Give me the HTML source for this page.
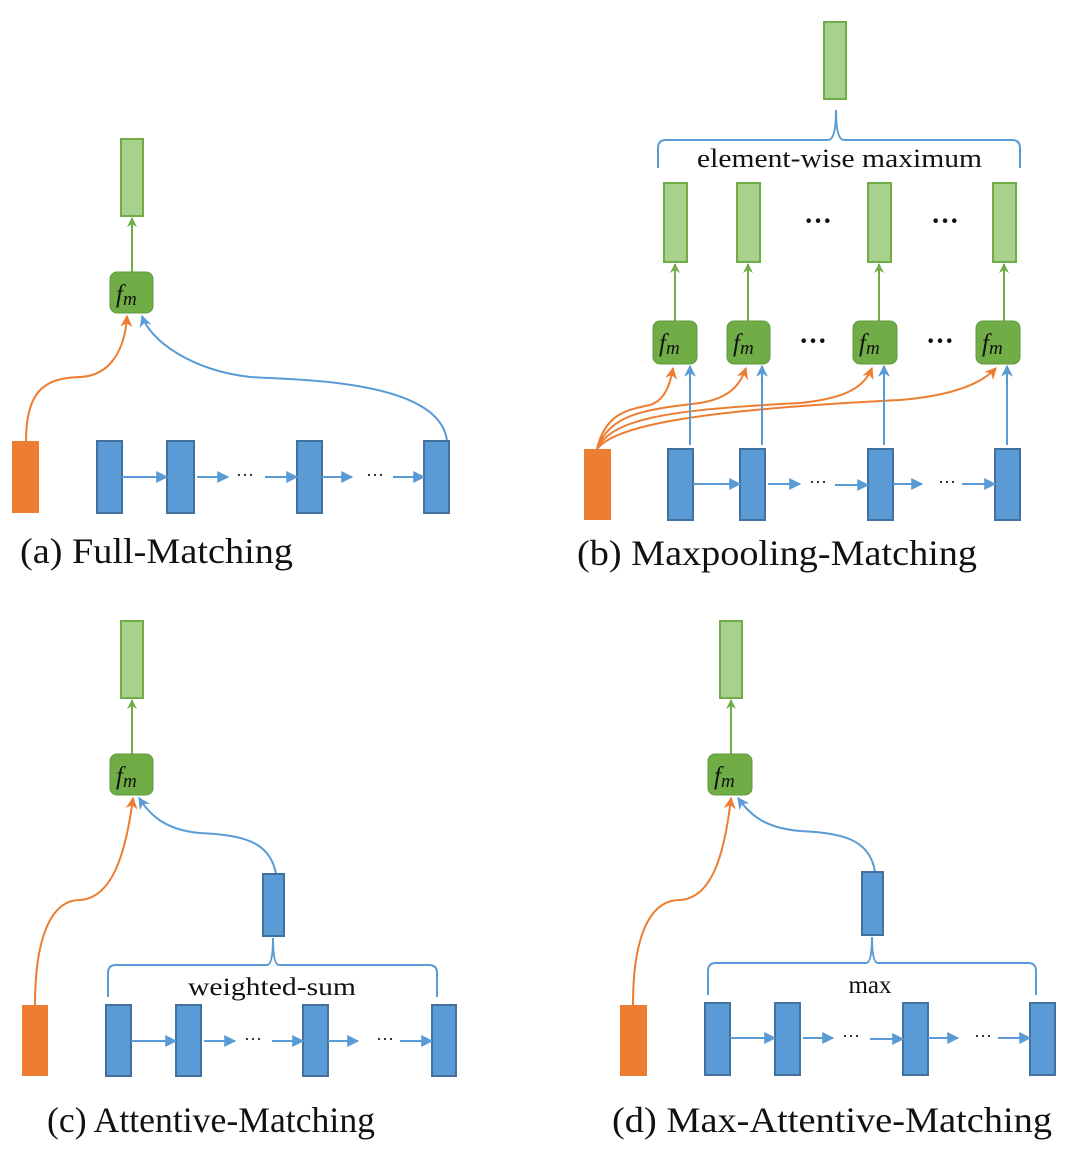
<!DOCTYPE html>
<html><head><meta charset="utf-8"><style>
html,body{margin:0;padding:0;background:#fff;}
svg{display:block;}
text{font-family:"Liberation Serif",serif;fill:#111;}
</style></head><body>
<svg width="1080" height="1152" viewBox="0 0 1080 1152" xmlns="http://www.w3.org/2000/svg">
<defs>
<marker id="ab" viewBox="0 0 10 10" refX="9" refY="5" markerWidth="12" markerHeight="12" markerUnits="userSpaceOnUse" orient="auto"><path d="M0,0L10,5L0,10z" fill="#5b9bd5"/></marker>
<marker id="ab2" viewBox="0 0 10 10" refX="9" refY="5" markerWidth="12" markerHeight="12" markerUnits="userSpaceOnUse" orient="auto"><path d="M0,0L10,5L0,10L3,5z" fill="#5b9bd5"/></marker>
<marker id="ao" viewBox="0 0 10 10" refX="9" refY="5" markerWidth="12" markerHeight="12" markerUnits="userSpaceOnUse" orient="auto"><path d="M0,0L10,5L0,10L3,5z" fill="#ed7d31"/></marker>
<marker id="ag" viewBox="0 0 10 10" refX="9" refY="5" markerWidth="10" markerHeight="10" markerUnits="userSpaceOnUse" orient="auto"><path d="M0,0L10,5L0,10L3,5z" fill="#70ad47"/></marker>
</defs>
<style>
.gr{fill:#a9d18e;stroke:#70ad47;stroke-width:2}
.fm{fill:#70ad47;stroke:#5f9a3c;stroke-width:1}
.bl{fill:#5b9bd5;stroke:#41719c;stroke-width:2}
.or{fill:#ed7d31}
.lb{stroke:#5b9bd5;stroke-width:2;fill:none}
.lo{stroke:#ed7d31;stroke-width:2;fill:none}
.lg{stroke:#70ad47;stroke-width:2;fill:none}
.f{font-family:"Liberation Serif",serif;font-style:italic;font-size:25px;}
.d{font-size:28px;font-weight:bold;}
</style>

<!-- Panel (a) -->
<rect class="gr" x="121" y="139" width="22" height="77"/>
<line class="lg" x1="132" y1="272" x2="132" y2="218" marker-end="url(#ag)"/>
<rect class="fm" x="110" y="272" width="43" height="41" rx="7"/>
<text class="f" x="116" y="302">f<tspan font-size="19" dy="3">m</tspan></text>
<rect class="or" x="12" y="441" width="27" height="72"/>
<path class="lo" d="M26,441 C26,390 45,378 80,377 C110,376 125,350 127,316" marker-end="url(#ao)"/>
<path class="lb" d="M447,441 C440,380 300,380 250,377 C190,370 150,340 142,316" marker-end="url(#ab2)"/>
<rect class="bl" x="97" y="441" width="25" height="72"/>
<rect class="bl" x="167" y="441" width="27" height="72"/>
<rect class="bl" x="297" y="441" width="25" height="72"/>
<rect class="bl" x="424" y="441" width="25" height="72"/>
<line class="lb" x1="122" y1="477" x2="167" y2="477" marker-end="url(#ab)"/>
<line class="lb" x1="197" y1="477" x2="228" y2="477" marker-end="url(#ab)"/>
<text x="245" y="481" font-size="18" text-anchor="middle">···</text>
<line class="lb" x1="265" y1="477" x2="297" y2="477" marker-end="url(#ab)"/>
<line class="lb" x1="322" y1="477" x2="352" y2="477" marker-end="url(#ab)"/>
<text x="375" y="481" font-size="18" text-anchor="middle">···</text>
<line class="lb" x1="393" y1="477" x2="424" y2="477" marker-end="url(#ab)"/>
<text x="20" y="563" font-size="36" textLength="273" lengthAdjust="spacingAndGlyphs">(a) Full-Matching</text>

<!-- Panel (b) -->
<rect class="gr" x="824" y="22" width="22" height="77"/>
<path class="lb" d="M658,168 L658,148 Q658,140 666,140 L828,140 Q836,140 836,110 Q836,140 844,140 L1012,140 Q1020,140 1020,148 L1020,168"/>
<text x="697" y="167" font-size="26" textLength="285" lengthAdjust="spacingAndGlyphs">element-wise maximum</text>
<rect class="gr" x="664" y="183" width="23" height="79"/>
<rect class="gr" x="737" y="183" width="23" height="79"/>
<rect class="gr" x="868" y="183" width="23" height="79"/>
<rect class="gr" x="993" y="183" width="23" height="79"/>
<text class="d" x="818" y="230" text-anchor="middle">···</text>
<text class="d" x="945" y="230" text-anchor="middle">···</text>
<line class="lg" x1="675" y1="321" x2="675" y2="264" marker-end="url(#ag)"/>
<line class="lg" x1="748" y1="321" x2="748" y2="264" marker-end="url(#ag)"/>
<line class="lg" x1="879" y1="321" x2="879" y2="264" marker-end="url(#ag)"/>
<line class="lg" x1="1004" y1="321" x2="1004" y2="264" marker-end="url(#ag)"/>
<rect class="fm" x="653" y="321" width="44" height="43" rx="7"/>
<rect class="fm" x="727" y="321" width="43" height="43" rx="7"/>
<rect class="fm" x="853" y="321" width="44" height="43" rx="7"/>
<rect class="fm" x="976" y="321" width="44" height="43" rx="7"/>
<text class="f" x="659" y="351">f<tspan font-size="19" dy="3">m</tspan></text>
<text class="f" x="733" y="351">f<tspan font-size="19" dy="3">m</tspan></text>
<text class="f" x="859" y="351">f<tspan font-size="19" dy="3">m</tspan></text>
<text class="f" x="982" y="351">f<tspan font-size="19" dy="3">m</tspan></text>
<text class="d" x="813" y="350" text-anchor="middle">···</text>
<text class="d" x="940" y="350" text-anchor="middle">···</text>
<rect class="or" x="584" y="449" width="27" height="71"/>
<path class="lo" d="M597,449 C605,415 625,410 650,405 C665,400 670,385 673,368" marker-end="url(#ao)"/>
<path class="lo" d="M597,449 C610,415 640,410 700,403 C730,398 740,385 746,368" marker-end="url(#ao)"/>
<path class="lo" d="M597,449 C612,420 660,410 800,403 C850,398 865,385 872,368" marker-end="url(#ao)"/>
<path class="lo" d="M597,449 C615,425 700,410 900,400 C960,395 985,380 996,368" marker-end="url(#ao)"/>
<line class="lb" x1="690" y1="445" x2="690" y2="366" marker-end="url(#ab2)"/>
<line class="lb" x1="762" y1="445" x2="762" y2="366" marker-end="url(#ab2)"/>
<line class="lb" x1="884" y1="445" x2="884" y2="366" marker-end="url(#ab2)"/>
<line class="lb" x1="1007" y1="445" x2="1007" y2="366" marker-end="url(#ab2)"/>
<rect class="bl" x="668" y="449" width="25" height="71"/>
<rect class="bl" x="740" y="449" width="25" height="71"/>
<rect class="bl" x="868" y="449" width="25" height="71"/>
<rect class="bl" x="995" y="449" width="25" height="71"/>
<line class="lb" x1="693" y1="484" x2="740" y2="484" marker-end="url(#ab)"/>
<line class="lb" x1="768" y1="484" x2="800" y2="484" marker-end="url(#ab)"/>
<text x="818" y="488" font-size="18" text-anchor="middle">···</text>
<line class="lb" x1="835" y1="485" x2="868" y2="485" marker-end="url(#ab)"/>
<line class="lb" x1="893" y1="484" x2="922" y2="484" marker-end="url(#ab)"/>
<text x="947" y="488" font-size="18" text-anchor="middle">···</text>
<line class="lb" x1="962" y1="484" x2="995" y2="484" marker-end="url(#ab)"/>
<text x="577" y="565" font-size="36" textLength="400" lengthAdjust="spacingAndGlyphs">(b) Maxpooling-Matching</text>

<!-- Panel (c) -->
<rect class="gr" x="121" y="621" width="22" height="77"/>
<line class="lg" x1="132" y1="754" x2="132" y2="700" marker-end="url(#ag)"/>
<rect class="fm" x="110" y="754" width="43" height="41" rx="7"/>
<text class="f" x="116" y="784">f<tspan font-size="19" dy="3">m</tspan></text>
<rect class="or" x="22" y="1005" width="26" height="71"/>
<path class="lo" d="M35,1005 C35,940 50,900 80,900 C110,898 125,860 133,798" marker-end="url(#ao)"/>
<path class="lb" d="M276,874 C270,840 240,835 200,833 C165,830 150,815 139,798" marker-end="url(#ab2)"/>
<rect class="bl" x="263" y="874" width="21" height="62"/>
<path class="lb" d="M108,997 L108,973 Q108,965 116,965 L267,965 Q273,965 273,938 Q273,965 279,965 L429,965 Q437,965 437,973 L437,997"/>
<text x="188" y="995" font-size="25" textLength="168" lengthAdjust="spacingAndGlyphs">weighted-sum</text>
<rect class="bl" x="106" y="1005" width="25" height="71"/>
<rect class="bl" x="176" y="1005" width="25" height="71"/>
<rect class="bl" x="303" y="1005" width="25" height="71"/>
<rect class="bl" x="432" y="1005" width="24" height="71"/>
<line class="lb" x1="131" y1="1041" x2="176" y2="1041" marker-end="url(#ab)"/>
<line class="lb" x1="204" y1="1041" x2="235" y2="1041" marker-end="url(#ab)"/>
<text x="253" y="1045" font-size="18" text-anchor="middle">···</text>
<line class="lb" x1="272" y1="1041" x2="303" y2="1041" marker-end="url(#ab)"/>
<line class="lb" x1="328" y1="1041" x2="358" y2="1041" marker-end="url(#ab)"/>
<text x="385" y="1045" font-size="18" text-anchor="middle">···</text>
<line class="lb" x1="400" y1="1041" x2="432" y2="1041" marker-end="url(#ab)"/>
<text x="47" y="1132" font-size="36" textLength="328" lengthAdjust="spacingAndGlyphs">(c) Attentive-Matching</text>

<!-- Panel (d) -->
<rect class="gr" x="720" y="621" width="22" height="77"/>
<line class="lg" x1="731" y1="754" x2="731" y2="700" marker-end="url(#ag)"/>
<rect class="fm" x="708" y="754" width="44" height="41" rx="7"/>
<text class="f" x="714" y="784">f<tspan font-size="19" dy="3">m</tspan></text>
<rect class="or" x="620" y="1005" width="27" height="71"/>
<path class="lo" d="M633,1005 C633,940 648,900 680,900 C710,898 724,860 731,798" marker-end="url(#ao)"/>
<path class="lb" d="M875,872 C870,838 840,833 800,831 C765,828 750,815 738,798" marker-end="url(#ab2)"/>
<rect class="bl" x="862" y="872" width="21" height="63"/>
<path class="lb" d="M708,995 L708,971 Q708,963 716,963 L866,963 Q872,963 872,937 Q872,963 878,963 L1028,963 Q1036,963 1036,971 L1036,995"/>
<text x="870" y="993" font-size="25" text-anchor="middle">max</text>
<rect class="bl" x="705" y="1003" width="25" height="72"/>
<rect class="bl" x="775" y="1003" width="25" height="72"/>
<rect class="bl" x="903" y="1003" width="25" height="72"/>
<rect class="bl" x="1030" y="1003" width="25" height="72"/>
<line class="lb" x1="730" y1="1038" x2="775" y2="1038" marker-end="url(#ab)"/>
<line class="lb" x1="803" y1="1038" x2="833" y2="1038" marker-end="url(#ab)"/>
<text x="851" y="1042" font-size="18" text-anchor="middle">···</text>
<line class="lb" x1="870" y1="1039" x2="903" y2="1039" marker-end="url(#ab)"/>
<line class="lb" x1="928" y1="1038" x2="958" y2="1038" marker-end="url(#ab)"/>
<text x="983" y="1042" font-size="18" text-anchor="middle">···</text>
<line class="lb" x1="998" y1="1038" x2="1030" y2="1038" marker-end="url(#ab)"/>
<text x="612" y="1132" font-size="36" textLength="440" lengthAdjust="spacingAndGlyphs">(d) Max-Attentive-Matching</text>
</svg>
</body></html>
